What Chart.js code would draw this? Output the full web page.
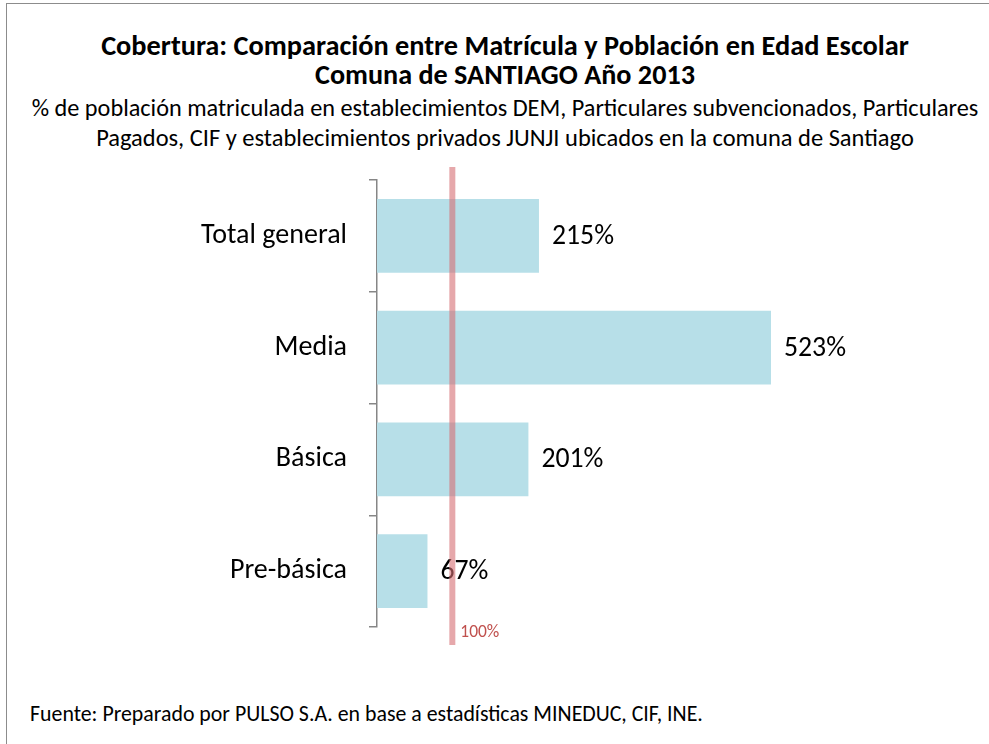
<!DOCTYPE html>
<html>
<head>
<meta charset="utf-8">
<script src="https://cdn.jsdelivr.net/npm/chart.js@4.4.1/dist/chart.umd.min.js"></script>
<style>
  html, body { margin: 0; padding: 0; width: 989px; height: 744px; overflow: hidden; background: #fff; }
  body { position: relative; font-family: Carlito, "Open Sans", sans-serif; color: #000; }
  #frame { position: absolute; left: 6px; top: 3px; width: 998px; height: 800px; border: 1px solid #8c8c8c; box-sizing: border-box; }
  .t { position: absolute; left: 6px; width: 998px; text-align: center; white-space: nowrap; line-height: 30px; height: 30px; }
  .t span, #foot span { display: inline-block; }
  #t1 { top: 31px; font-weight: bold; }
  #t2 { top: 60px; font-weight: bold; }
  #s1 { top: 93px; }
  #s2 { top: 123px; }
  #foot { position: absolute; left: 30px; top: 699px; line-height: 30px; white-space: nowrap; }
  canvas { position: absolute; left: 0; top: 0; }
</style>
</head>
<body>
<div id="frame"></div>
<div class="t" id="t1"><span data-w="808">Cobertura: Comparación entre Matrícula y Población en Edad Escolar</span></div>
<div class="t" id="t2"><span data-w="380">Comuna de SANTIAGO Año 2013</span></div>
<div class="t" id="s1"><span data-w="947">% de población matriculada en establecimientos DEM, Particulares subvencionados, Particulares</span></div>
<div class="t" id="s2"><span data-w="818">Pagados, CIF y establecimientos privados JUNJI ubicados en la comuna de Santiago</span></div>
<div id="foot"><span data-w="673">Fuente: Preparado por PULSO S.A. en base a estadísticas MINEDUC, CIF, INE.</span></div>
<canvas id="c" width="989" height="744"></canvas>
<script>
const categories = ["Total general", "Media", "Básica", "Pre-básica"];
const coverage = [215, 523, 201, 67];
const referenceValue = 100;
const referenceLabel = "100%";

const FONT = "Carlito, 'Open Sans', sans-serif";

// size text to the reference widths
document.querySelectorAll("span[data-w]").forEach(s => {
  s.style.fontSize = "20px";
  const w = s.getBoundingClientRect().width;
  s.style.fontSize = (20 * (+s.dataset.w) / w).toFixed(2) + "px";
});
const mctx = document.createElement("canvas").getContext("2d");
function fitSize(text, target, weight) {
  mctx.font = (weight || "") + " 20px " + FONT;
  return 20 * target / mctx.measureText(text).width;
}
const catSize = fitSize("Total general", 146);
const valSize = fitSize("523%", 62);
const refSize = fitSize("100%", 39);

const valueLabels = {
  id: "valueLabels",
  afterDatasetsDraw(chart) {
    const ctx = chart.ctx;
    const meta = chart.getDatasetMeta(0);
    ctx.save();
    ctx.font = valSize.toFixed(2) + "px " + FONT;
    ctx.fillStyle = "#000";
    ctx.textAlign = "left";
    ctx.textBaseline = "middle";
    meta.data.forEach((bar, i) => {
      ctx.fillText(coverage[i] + "%", bar.x + 13, bar.y + 1);
    });
    ctx.restore();
  }
};

const refLine = {
  id: "refLine",
  afterDatasetsDraw(chart) {
    const ctx = chart.ctx;
    const x = chart.scales.x.getPixelForValue(referenceValue);
    const a = chart.chartArea;
    ctx.save();
    ctx.strokeStyle = "rgba(214, 110, 115, 0.6)";
    ctx.lineWidth = 6;
    ctx.beginPath();
    ctx.moveTo(x, a.top - 13);
    ctx.lineTo(x, a.bottom + 18);
    ctx.stroke();
    ctx.font = refSize.toFixed(2) + "px " + FONT;
    ctx.fillStyle = "#c0504d";
    ctx.textAlign = "left";
    ctx.textBaseline = "middle";
    ctx.fillText(referenceLabel, x + 8, a.bottom + 6);
    ctx.restore();
  }
};

new Chart(document.getElementById("c"), {
  type: "bar",
  data: {
    labels: categories,
    datasets: [{
      data: coverage,
      backgroundColor: "#b7dfe8",
      borderWidth: 0,
      barPercentage: 0.66,
      categoryPercentage: 1
    }]
  },
  options: {
    indexAxis: "y",
    responsive: false,
    animation: false,
    layout: { padding: { top: 180, bottom: 117, left: 0, right: 160 } },
    plugins: { legend: { display: false }, tooltip: { enabled: false } },
    scales: {
      x: { display: false, min: 0, max: 600 },
      y: {
        afterFit(scale) { scale.width = 377; },
        border: { display: true, color: "#868686", width: 1.5 },
        grid: { drawOnChartArea: false, offset: true, tickLength: 8, color: "#868686", lineWidth: 1.5 },
        ticks: { color: "#000", font: { size: catSize, family: FONT }, padding: 22 }
      }
    }
  },
  plugins: [valueLabels, refLine]
});
</script>
</body>
</html>
